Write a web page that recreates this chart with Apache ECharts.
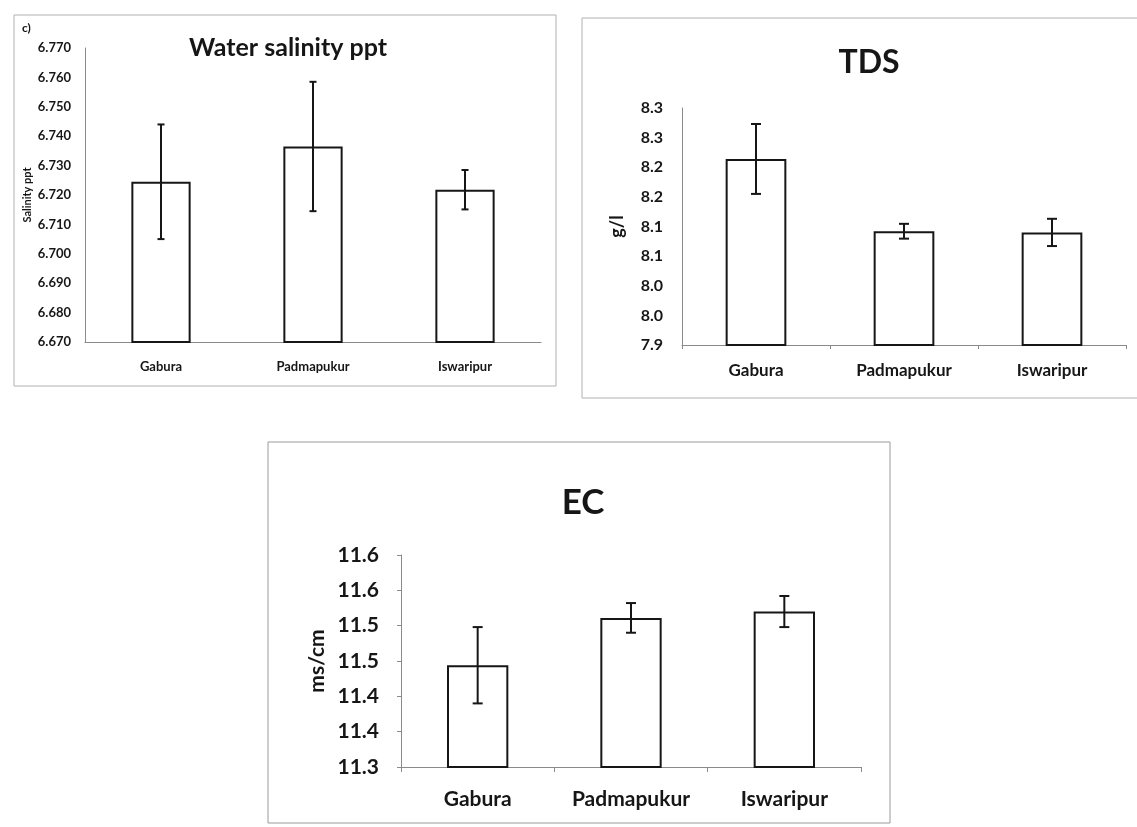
<!DOCTYPE html>
<html>
<head>
<meta charset="utf-8">
<script src="https://cdn.jsdelivr.net/npm/echarts@6/dist/echarts.min.js"></script>
<style>
  html, body { margin: 0; padding: 0; background: #ffffff; }
  #chart { width: 1137px; height: 827px; }
</style>
</head>
<body>
<div id="chart"></div>
<script>
// ---------- data ----------
const categories = ['Gabura', 'Padmapukur', 'Iswaripur'];

const salinityMean = [6.7245, 6.7365, 6.7218];
const salinityErr  = [0.0195, 0.0220, 0.0067];
const salinityTicks = ['6.670','6.680','6.690','6.700','6.710','6.720','6.730','6.740','6.750','6.760','6.770'];

const tdsMean = [8.214, 8.092, 8.090];
const tdsErr  = [0.059, 0.0125, 0.023];
const tdsTicks = ['7.9','8.0','8.0','8.1','8.1','8.2','8.2','8.3','8.3'];

const ecMean = [11.444, 11.511, 11.520];
const ecErr  = [0.054, 0.021, 0.022];
const ecTicks = ['11.3','11.4','11.4','11.5','11.5','11.6','11.6'];

// ---------- helpers ----------
const FONT = 'Lato';
const INK = '#161616';
const AXIS = '#8a8a8a';

function errData(mean, err) {
  return mean.map((m, i) => [i, m - err[i], m + err[i]]);
}
function errRender(capHalf) {
  return function (params, api) {
    const x = api.value(0);
    const pLo = api.coord([x, api.value(1)]);
    const pHi = api.coord([x, api.value(2)]);
    const style = { stroke: INK, lineWidth: 2 };
    return {
      type: 'group',
      children: [
        { type: 'line', shape: { x1: pHi[0], y1: pHi[1], x2: pLo[0], y2: pLo[1] }, style },
        { type: 'line', shape: { x1: pHi[0] - capHalf, y1: pHi[1], x2: pHi[0] + capHalf, y2: pHi[1] }, style },
        { type: 'line', shape: { x1: pLo[0] - capHalf, y1: pLo[1], x2: pLo[0] + capHalf, y2: pLo[1] }, style }
      ]
    };
  };
}
function tickFormatter(labels, min, interval) {
  return function (v) {
    const k = Math.round((v - min) / interval);
    return labels[k] !== undefined ? labels[k] : '';
  };
}

const chart = echarts.init(document.getElementById('chart'), null, { renderer: 'canvas' });

const option = {
  backgroundColor: '#ffffff',
  animation: false,
  title: [
    { text: 'Water salinity ppt', left: 283, top: 30, textAlign: 'center',
      textStyle: { fontFamily: FONT, fontWeight: 'bold', fontSize: 25, color: INK } },
    { text: 'TDS', left: 864, top: 42, textAlign: 'center',
      textStyle: { fontFamily: FONT, fontWeight: 'bold', fontSize: 32, color: INK } },
    { text: 'EC', left: 578, top: 480, textAlign: 'center',
      textStyle: { fontFamily: FONT, fontWeight: 'bold', fontSize: 35, color: INK } }
  ],
  graphic: [
    { type: 'rect', shape: { x: 14, y: 15, width: 542, height: 371 }, style: { fill: 'none', stroke: '#b0b0b0', lineWidth: 1 }, silent: true },
    { type: 'rect', shape: { x: 582, y: 18, width: 560, height: 380 }, style: { fill: 'none', stroke: '#b0b0b0', lineWidth: 1 }, silent: true },
    { type: 'rect', shape: { x: 268, y: 442, width: 622, height: 381 }, style: { fill: 'none', stroke: '#9a9a9a', lineWidth: 1 }, silent: true },
    { type: 'text', left: 22, top: 22, style: { text: 'c)', font: 'bold 12px Lato', fill: INK }, silent: true }
  ],
  grid: [
    { left: 85, top: 48, width: 456, height: 294 },
    { left: 682, top: 108, width: 444, height: 237 },
    { left: 401, top: 555, width: 460, height: 212 }
  ],
  xAxis: [
    { type: 'category', gridIndex: 0, data: categories,
      axisLine: { lineStyle: { color: AXIS, width: 1 } }, axisTick: { show: false },
      axisLabel: { interval: 0, margin: 18, fontFamily: FONT, fontWeight: 'bold', fontSize: 13, color: INK } },
    { type: 'category', gridIndex: 1, data: categories,
      axisLine: { lineStyle: { color: AXIS, width: 1 } }, axisTick: { show: true, length: 4, lineStyle: { color: AXIS } },
      axisLabel: { interval: 0, margin: 17, fontFamily: FONT, fontWeight: 'bold', fontSize: 17, color: INK } },
    { type: 'category', gridIndex: 2, data: categories,
      axisLine: { lineStyle: { color: AXIS, width: 1 } }, axisTick: { show: true, length: 5, lineStyle: { color: AXIS } },
      axisLabel: { interval: 0, hideOverlap: false, margin: 22, fontFamily: FONT, fontWeight: 'bold', fontSize: 21, color: INK } }
  ],
  yAxis: [
    { type: 'value', gridIndex: 0, min: 6.67, max: 6.77, interval: 0.01,
      name: 'Salinity ppt', nameLocation: 'middle', nameGap: 52,
      nameTextStyle: { fontFamily: FONT, fontWeight: 'bold', fontSize: 11, color: INK },
      axisLine: { show: true, lineStyle: { color: AXIS, width: 1 } }, axisTick: { show: false },
      splitLine: { show: false },
      axisLabel: { margin: 14, fontFamily: FONT, fontWeight: 'bold', fontSize: 13, color: INK,
        formatter: tickFormatter(salinityTicks, 6.67, 0.01) } },
    { type: 'value', gridIndex: 1, min: 7.9, max: 8.3, interval: 0.05,
      name: 'g/l', nameLocation: 'middle', nameGap: 56,
      nameTextStyle: { fontFamily: FONT, fontWeight: 'bold', fontSize: 18, color: INK },
      axisLine: { show: true, lineStyle: { color: AXIS, width: 1 } }, axisTick: { show: false },
      splitLine: { show: false },
      axisLabel: { margin: 19, fontFamily: FONT, fontWeight: 'bold', fontSize: 16, color: INK,
        formatter: tickFormatter(tdsTicks, 7.9, 0.05) } },
    { type: 'value', gridIndex: 2, min: 11.3, max: 11.6, interval: 0.05,
      name: 'ms/cm', nameLocation: 'middle', nameGap: 73,
      nameTextStyle: { fontFamily: FONT, fontWeight: 'bold', fontSize: 21, color: INK },
      axisLine: { show: true, lineStyle: { color: AXIS, width: 1 } },
      axisTick: { show: true, length: 4, lineStyle: { color: AXIS } },
      splitLine: { show: false },
      axisLabel: { margin: 22, fontFamily: FONT, fontWeight: 'bold', fontSize: 21, color: INK,
        formatter: tickFormatter(ecTicks, 11.3, 0.05) } }
  ],
  series: [
    { type: 'bar', xAxisIndex: 0, yAxisIndex: 0, data: salinityMean, barWidth: '39%',
      itemStyle: { color: '#ffffff', borderColor: INK, borderWidth: 2 } },
    { type: 'custom', xAxisIndex: 0, yAxisIndex: 0, data: errData(salinityMean, salinityErr),
      renderItem: errRender(3.5), z: 5 },
    { type: 'bar', xAxisIndex: 1, yAxisIndex: 1, data: tdsMean, barWidth: '41%',
      itemStyle: { color: '#ffffff', borderColor: INK, borderWidth: 2 } },
    { type: 'custom', xAxisIndex: 1, yAxisIndex: 1, data: errData(tdsMean, tdsErr),
      renderItem: errRender(5), z: 5 },
    { type: 'bar', xAxisIndex: 2, yAxisIndex: 2, data: ecMean, barWidth: '40%',
      itemStyle: { color: '#ffffff', borderColor: INK, borderWidth: 2 } },
    { type: 'custom', xAxisIndex: 2, yAxisIndex: 2, data: errData(ecMean, ecErr),
      renderItem: errRender(5), z: 5 }
  ]
};

chart.setOption(option);
</script>
</body>
</html>
